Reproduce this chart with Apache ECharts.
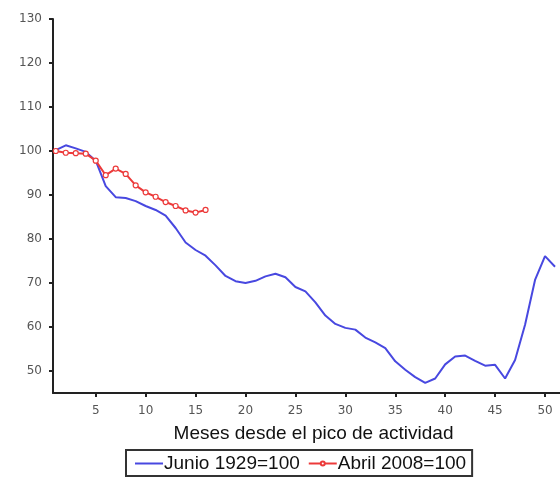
<!DOCTYPE html>
<html>
<head>
<meta charset="utf-8">
<script src="https://cdn.jsdelivr.net/npm/echarts@6/dist/echarts.min.js"></script>
<style>html,body{margin:0;padding:0;background:#fff}#c{width:560px;height:477px}</style>
</head>
<body>
<div id="c"></div>
<script>
const months1929 = [1,2,3,4,5,6,7,8,9,10,11,12,13,14,15,16,17,18,19,20,21,22,23,24,25,26,27,28,29,30,31,32,33,34,35,36,37,38,39,40,41,42,43,44,45,46,47,48,49,50,51];
const junio1929 = [100.2,101.3,100.6,99.8,97.8,92.0,89.5,89.3,88.6,87.5,86.6,85.3,82.5,79.2,77.5,76.2,74.0,71.6,70.4,70.0,70.5,71.5,72.1,71.3,69.1,68.1,65.6,62.6,60.7,59.8,59.4,57.6,56.5,55.2,52.2,50.3,48.6,47.3,48.3,51.5,53.3,53.5,52.3,51.2,51.4,48.3,52.5,60.5,70.7,76.1,73.7];
const months2008 = [1,2,3,4,5,6,7,8,9,10,11,12,13,14,15,16];
const abril2008 = [100.0,99.6,99.5,99.4,97.8,94.5,96.0,94.8,92.2,90.6,89.6,88.4,87.5,86.5,86.0,86.6];
const xTicks = [5,10,15,20,25,30,35,40,45,50];
const yTicks = [50,60,70,80,90,100,110,120,130];
const xName = 'Meses desde el pico de actividad';
const nameBlue = 'Junio 1929=100';
const nameRed = 'Abril 2008=100';

const chart = echarts.init(document.getElementById('c'), null, {renderer: 'canvas'});
const labelStyle = {color: '#555', fontFamily: 'DejaVu Sans', fontSize: 12};
chart.setOption({
  animation: false,
  grid: {left: 53, right: 0, top: 19, bottom: 84, containLabel: false},
  xAxis: {
    type: 'value', min: 0.72, max: 51.5,
    name: xName, nameLocation: 'middle', nameGap: 31,
    nameTextStyle: {fontFamily: 'Liberation Sans', fontSize: 19, color: '#111', padding: [0,0,0,14]},
    axisLine: {lineStyle: {color: '#222', width: 2}},
    axisTick: {customValues: xTicks, length: 4, lineStyle: {color: '#222', width: 2}},
    axisLabel: Object.assign({customValues: xTicks, margin: 12}, labelStyle),
    splitLine: {show: false}
  },
  yAxis: {
    type: 'value', min: 45, max: 130,
    axisLine: {show: true, lineStyle: {color: '#222', width: 2}},
    axisTick: {show: true, customValues: yTicks, length: 4, lineStyle: {color: '#222', width: 2}},
    axisLabel: Object.assign({customValues: yTicks, margin: 11}, labelStyle),
    splitLine: {show: false}
  },
  legend: {
    bottom: 1, left: 126,
    data: [
      {name: nameBlue, itemStyle: {opacity: 0, color: 'rgba(0,0,0,0)', borderWidth: 0}},
      {name: nameRed}
    ],
    borderColor: '#333', borderWidth: 2, padding: [4, 6, 3, 8],
    itemWidth: 28, itemHeight: 5, itemGap: 8,
    textStyle: {fontFamily: 'Liberation Sans', fontSize: 19, color: '#111', padding: [0,0,0,-4]}
  },
  series: [
    {
      name: nameBlue, type: 'line',
      data: months1929.map((m, i) => [m, junio1929[i]]),
      showSymbol: false, symbol: 'none',
      lineStyle: {color: '#4848e0', width: 2},
      itemStyle: {color: '#4848e0'}
    },
    {
      name: nameRed, type: 'line',
      data: months2008.map((m, i) => [m, abril2008[i]]),
      symbol: 'circle', symbolSize: 5, showSymbol: true,
      lineStyle: {color: '#ec3a3a', width: 2},
      itemStyle: {color: '#fff', borderColor: '#ec3a3a', borderWidth: 1.2}
    }
  ]
});
</script>
</body>
</html>
